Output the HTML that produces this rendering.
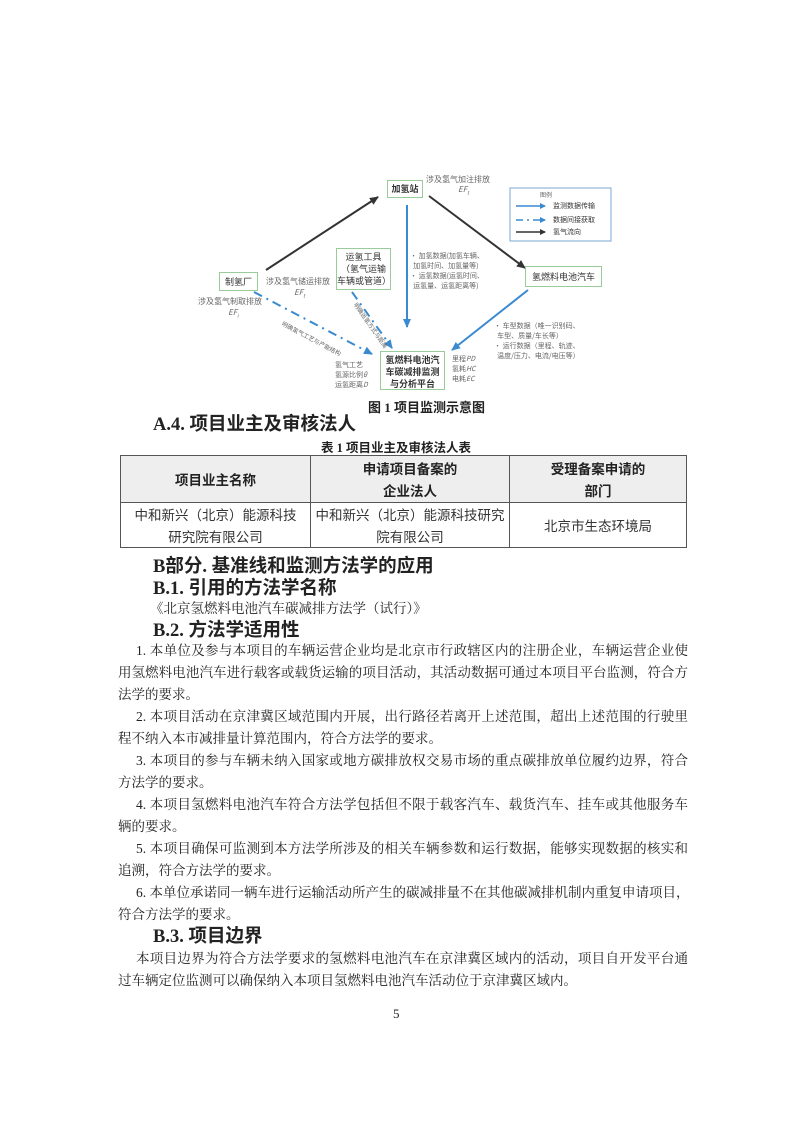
<!DOCTYPE html>
<html><head><meta charset="utf-8"><style>
body{margin:0;background:#fff;}
#p{position:relative;width:794px;height:1122px;overflow:hidden;font-family:"Liberation Serif","Noto Serif CJK SC","Noto Sans CJK SC",serif;color:#222;}
.a{position:absolute;white-space:nowrap;}
.l{position:absolute;left:118px;width:570px;font-size:13.5px;line-height:22px;white-space:nowrap;text-align:justify;text-align-last:justify;}
.l.e{text-align-last:left;}
.l.i{left:136px;width:552px;}
.h{position:absolute;font-weight:bold;font-size:18.5px;line-height:22px;font-family:"Liberation Serif","Noto Sans CJK SC",serif;white-space:nowrap;}
.bx{position:absolute;border:1.5px solid #9c9;background:#fff;font-family:"Noto Sans CJK SC",sans-serif;font-size:9px;text-align:center;color:#333;}
.g{position:absolute;font-family:"Noto Sans CJK SC",sans-serif;font-size:8px;color:#666;white-space:nowrap;line-height:11px;}
table{position:absolute;left:120px;top:455px;width:567px;border-collapse:collapse;font-size:13.5px;font-family:"Noto Sans CJK SC",sans-serif;}
td{border:1px solid #555;text-align:center;line-height:22px;padding:0;}
</style></head><body><div id="p">
<svg class="a" style="left:0;top:0" width="794" height="420">
<defs>
<marker id="k" markerUnits="userSpaceOnUse" markerWidth="9" markerHeight="8" refX="8" refY="4" orient="auto"><path d="M0,0L9,4L0,8z" fill="#333"/></marker>
<marker id="b" markerUnits="userSpaceOnUse" markerWidth="9" markerHeight="8" refX="8" refY="4" orient="auto"><path d="M0,0L9,4L0,8z" fill="#3a8ad0"/></marker>
<marker id="s" markerUnits="userSpaceOnUse" markerWidth="6" markerHeight="6" refX="5" refY="3" orient="auto"><path d="M0,0L6,3L0,6z" fill="#3a8ad0"/></marker>
<marker id="sk" markerUnits="userSpaceOnUse" markerWidth="6" markerHeight="6" refX="5" refY="3" orient="auto"><path d="M0,0L6,3L0,6z" fill="#333"/></marker>
</defs>
<line x1="266" y1="270" x2="378" y2="197" stroke="#333" stroke-width="2" marker-end="url(#k)"/>
<line x1="429" y1="196" x2="525" y2="268" stroke="#333" stroke-width="2" marker-end="url(#k)"/>
<line x1="407" y1="205" x2="407" y2="327" stroke="#3a8ad0" stroke-width="2" marker-end="url(#b)"/>
<line x1="528" y1="290" x2="452" y2="350" stroke="#3a8ad0" stroke-width="2" marker-end="url(#b)"/>
<line x1="254" y1="292" x2="372" y2="354" stroke="#3a8ad0" stroke-width="2" stroke-dasharray="9,5,2,5" marker-end="url(#b)"/>
<line x1="352" y1="292" x2="392" y2="348" stroke="#3a8ad0" stroke-width="2" stroke-dasharray="9,5,2,5" marker-end="url(#b)"/>
<rect x="510" y="188" width="101" height="53" fill="#fff" stroke="#7aa7d6" stroke-width="1"/>
<line x1="516" y1="206" x2="545" y2="206" stroke="#3a8ad0" stroke-width="1.5" marker-end="url(#s)"/>
<line x1="516" y1="220" x2="545" y2="220" stroke="#3a8ad0" stroke-width="1.5" stroke-dasharray="7,4,2,4" marker-end="url(#s)"/>
<line x1="516" y1="232" x2="545" y2="232" stroke="#333" stroke-width="1.5" marker-end="url(#sk)"/>
</svg>
<div class="g" style="left:540px;top:189px;font-size:6px">图例</div>
<div class="g" style="left:553px;top:201px;font-size:7px;color:#333">监测数据传输</div>
<div class="g" style="left:553px;top:215px;font-size:7px;color:#333">数据间接获取</div>
<div class="g" style="left:553px;top:227px;font-size:7px;color:#333">氢气流向</div>
<div class="bx" style="left:387px;top:180px;width:34px;height:16px;line-height:16px;font-weight:bold">加氢站</div>
<div class="bx" style="left:219px;top:272px;width:37px;height:17px;line-height:17px">制氢厂</div>
<div class="bx" style="left:336px;top:248px;width:55px;height:42px;line-height:12px;padding-top:2px;box-sizing:border-box">运氢工具<br>（氢气运输<br>车辆或管道）</div>
<div class="bx" style="left:525px;top:266px;width:75px;height:19px;line-height:19px">氢燃料电池汽车</div>
<div class="bx" style="left:380px;top:351px;width:65px;height:39px;line-height:12px;padding-top:2px;box-sizing:border-box;font-weight:bold">氢燃料电池汽<br>车碳减排监测<br>与分析平台</div>
<div class="g" style="left:426px;top:174px">涉及氢气加注排放</div>
<div class="g" style="left:458px;top:184px;font-style:italic">EF<sub style="font-size:5px">t</sub></div>
<div class="g" style="left:266px;top:276px">涉及氢气储运排放</div>
<div class="g" style="left:294px;top:287px;font-style:italic">EF<sub style="font-size:5px">t</sub></div>
<div class="g" style="left:198px;top:296px">涉及氢气制取排放</div>
<div class="g" style="left:228px;top:307px;font-style:italic">EF<sub style="font-size:5px">i</sub></div>
<div class="g" style="left:410px;top:251px;font-size:7px;line-height:10px">• 加氢数据(加氢车辆、<br>&nbsp;&nbsp;加氢时间、加氢量等)<br>• 运氢数据(运氢时间、<br>&nbsp;&nbsp;运氢量、运氢距离等)</div>
<div class="g" style="left:494px;top:321px;font-size:7px;line-height:10px">• 车型数据（唯一识别码、<br>&nbsp;&nbsp;车型、质量/车长等）<br>• 运行数据（里程、轨迹、<br>&nbsp;&nbsp;温度/压力、电流/电压等）</div>
<div class="g" style="left:452px;top:354px;font-size:7px;line-height:10px">里程<i>PD</i><br>氢耗<i>HC</i><br>电耗<i>EC</i></div>
<div class="g" style="left:335px;top:360px;font-size:7px;line-height:10px">氢气工艺<br>氢源比例<i>θ</i><br>运氢距离<i>D</i></div>
<div class="g" style="left:285px;top:318px;font-size:6px;transform:rotate(28deg);transform-origin:left top">明确氢气工艺与产能结构</div>
<div class="g" style="left:360px;top:300px;font-size:6px;transform:rotate(55deg);transform-origin:left top">明确运氢方式与距离</div>
<div class="a" style="left:368px;top:397px;font-size:13px;font-weight:bold;font-family:'Liberation Serif','Noto Sans CJK SC',serif">图 1 项目监测示意图</div>
<div class="h" style="left:153px;top:414px">A.4. 项目业主及审核法人</div>
<div class="a" style="left:321px;top:437px;font-size:12.5px;font-weight:bold;font-family:'Liberation Serif','Noto Sans CJK SC',serif">表 1 项目业主及审核法人表</div>
<table>
<tr style="height:47px;background:#eee;font-weight:bold"><td style="width:189px">项目业主名称</td><td style="width:198px">申请项目备案的<br>企业法人</td><td>受理备案申请的<br>部门</td></tr>
<tr style="height:45px;color:#333"><td>中和新兴（北京）能源科技<br>研究院有限公司</td><td>中和新兴（北京）能源科技研究<br>院有限公司</td><td>北京市生态环境局</td></tr>
</table>
<div class="h" style="left:153px;top:556px">B部分. 基准线和监测方法学的应用</div>
<div class="h" style="left:153px;top:578px">B.1. 引用的方法学名称</div>
<div class="a" style="left:150px;top:598px;font-size:13.5px;line-height:22px">《北京氢燃料电池汽车碳减排方法学（试行）》</div>
<div class="h" style="left:153px;top:620px">B.2. 方法学适用性</div>
<div class="l i" style="top:640px">1. 本单位及参与本项目的车辆运营企业均是北京市行政辖区内的注册企业，车辆运营企业使</div>
<div class="l" style="top:662px">用氢燃料电池汽车进行载客或载货运输的项目活动，其活动数据可通过本项目平台监测，符合方</div>
<div class="l e" style="top:684px">法学的要求。</div>
<div class="l i" style="top:706px">2. 本项目活动在京津冀区域范围内开展，出行路径若离开上述范围，超出上述范围的行驶里</div>
<div class="l e" style="top:728px">程不纳入本市减排量计算范围内，符合方法学的要求。</div>
<div class="l i" style="top:750px">3. 本项目的参与车辆未纳入国家或地方碳排放权交易市场的重点碳排放单位履约边界，符合</div>
<div class="l e" style="top:772px">方法学的要求。</div>
<div class="l i" style="top:794px">4. 本项目氢燃料电池汽车符合方法学包括但不限于载客汽车、载货汽车、挂车或其他服务车</div>
<div class="l e" style="top:816px">辆的要求。</div>
<div class="l i" style="top:838px">5. 本项目确保可监测到本方法学所涉及的相关车辆参数和运行数据，能够实现数据的核实和</div>
<div class="l e" style="top:860px">追溯，符合方法学的要求。</div>
<div class="l i" style="top:882px">6. 本单位承诺同一辆车进行运输活动所产生的碳减排量不在其他碳减排机制内重复申请项目，</div>
<div class="l e" style="top:904px">符合方法学的要求。</div>
<div class="h" style="left:153px;top:926px">B.3. 项目边界</div>
<div class="l i" style="top:948px">本项目边界为符合方法学要求的氢燃料电池汽车在京津冀区域内的活动，项目自开发平台通</div>
<div class="l e" style="top:970px">过车辆定位监测可以确保纳入本项目氢燃料电池汽车活动位于京津冀区域内。</div>
<div class="a" style="left:393px;top:1006px;font-size:13px">5</div>
</div></body></html>
